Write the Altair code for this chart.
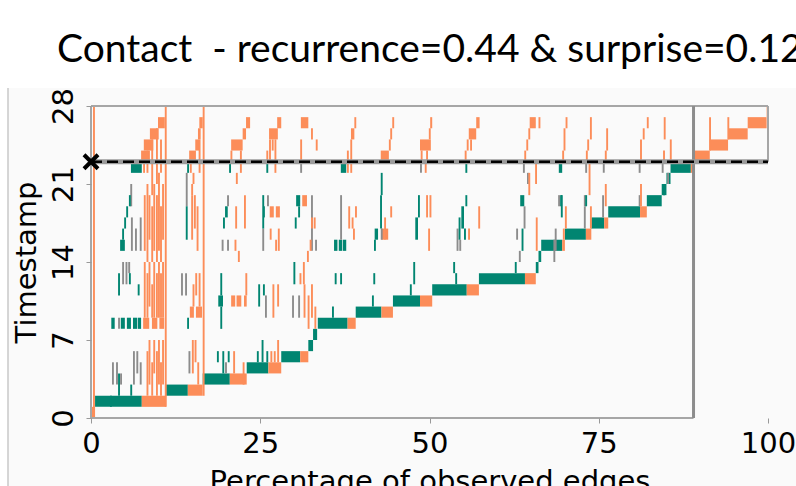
import altair as alt
import pandas as pd

# ------------------------------------------------------------------ data
x_ticks = [0, 25, 50, 75, 100]
t_ticks = [0, 7, 14, 21, 28]
split_t = 23          # train/test split timestamp
split_x = 89          # share of edges observed up to the split (%)
x_max, t_max = 100, 28

# staircase of first appearances: per timestamp, green part then orange part
stair_t =     [0, 1, 2, 3, 4, 5, 6, 7, 8, 9, 10, 11, 12, 13, 14, 15, 16, 17, 18, 19, 20, 21, 22, 23, 24, 25, 26]
stair_start = [0.0, 0.6, 11.1, 16.5, 23.0, 28.1, 32.1, 32.8, 33.5, 39.1, 44.6, 50.4, 57.3, 65.7, 66.1, 66.5,
               70.0, 73.9, 76.4, 82.1, 84.3, 85.0, 85.6, 89.0, 91.4, 94.1, 97.0]
stair_mid =   [0.0, 7.5, 14.3, 20.5, 26.2, 30.9, 32.8, 33.4, 37.9, 42.9, 48.6, 55.5, 64.1, 66.1, 66.5, 69.6,
               73.1, 75.8, 81.1, 84.3, 85.0, 85.6, 88.6, 89.0, 91.4, 94.1, 97.0]
stair_end =   [0.6, 11.1, 16.5, 23.0, 28.1, 32.1, 32.8, 33.4, 39.1, 44.6, 50.4, 57.3, 65.7, 66.1, 66.5, 70.0,
               73.9, 76.4, 82.1, 84.3, 85.0, 85.6, 88.9, 91.4, 94.1, 97.0, 99.8]

# groups of adjacent edges (x0, x1, t0, t1)
green_blocks = [
    (3.0, 3.5, 8, 8), (4.4, 5.0, 8, 8), (5.3, 5.9, 8, 8), (6.2, 6.8, 8, 8), (6.9, 7.4, 8, 8),
    (4.3, 5.0, 15, 15), (5.9, 7.5, 22, 22), (18.8, 19.5, 10, 10), (19.8, 20.2, 18, 18),
    (30.3, 30.9, 19, 19), (35.9, 36.4, 15, 15), (36.6, 37.1, 15, 15), (37.2, 37.7, 15, 15),
    (36.9, 37.7, 22, 22), (41.9, 42.4, 16, 16), (47.9, 48.3, 16, 17), (54.7, 55.1, 17, 18),
    (63.4, 64.0, 19, 19), (69.1, 69.6, 22, 22),
]
orange_blocks = [
    (7.4, 8.7, 23, 23), (7.8, 9.2, 24, 24), (8.7, 10.0, 25, 25), (9.9, 10.9, 26, 26),
    (7.7, 8.6, 8, 8), (9.0, 9.8, 8, 8), (10.1, 10.8, 8, 8),
    (14.5, 15.5, 23, 23), (15.4, 16.0, 24, 24), (15.8, 16.2, 25, 25), (16.0, 16.5, 26, 26),
    (14.6, 15.2, 9, 9), (15.5, 16.4, 9, 9),
    (20.7, 22.4, 24, 24), (22.4, 22.9, 25, 25), (22.9, 23.5, 26, 26),
    (20.7, 21.3, 10, 10), (21.5, 22.2, 10, 10), (22.6, 23.0, 10, 10),
    (26.3, 27.6, 25, 25), (27.5, 28.1, 26, 26), (26.4, 27.0, 18, 18), (27.3, 27.9, 18, 18),
    (31.0, 32.1, 26, 26), (31.2, 31.9, 19, 19), (38.4, 38.9, 25, 25),
    (42.8, 44.0, 23, 23), (42.9, 43.4, 16, 16), (43.5, 43.9, 16, 16),
    (48.6, 50.2, 24, 24), (50.1, 50.4, 26, 26), (55.8, 56.9, 25, 25), (56.9, 57.4, 26, 26),
    (64.8, 65.7, 26, 26),
]

# single edges (x, t0, t1)
orange_lines = [
    (0.3, 0, 27), (10.9, 1, 27), (16.5, 2, 27),
    (7.8, 9, 13), (7.8, 15, 19), (8.2, 2, 5), (8.2, 9, 12), (8.2, 14, 20),
    (8.5, 3, 6), (8.5, 10, 13), (8.5, 16, 19), (8.9, 2, 4), (8.9, 9, 11), (8.9, 14, 18), (8.9, 20, 24),
    (9.2, 4, 6), (9.2, 9, 13), (9.2, 15, 20), (9.6, 2, 5), (9.6, 9, 12), (9.6, 14, 19), (9.6, 21, 25),
    (9.9, 3, 6), (9.9, 9, 13), (9.9, 15, 21), (10.2, 2, 4), (10.2, 9, 12), (10.2, 14, 18), (10.2, 22, 24),
    (10.5, 3, 6), (10.5, 9, 13), (10.5, 16, 20), (7.7, 22, 22), (8.2, 22, 23),
    (14.6, 22, 22), (15.0, 21, 21), (15.9, 22, 24), (14.8, 16, 19), (15.2, 17, 19), (15.6, 15, 18),
    (15.9, 10, 12), (15.4, 11, 12), (15.0, 10, 11), (14.8, 20, 20), (14.9, 4, 6), (15.3, 5, 6), (15.7, 3, 4),
    (20.6, 23, 23), (22.0, 22, 23), (21.4, 21, 21), (21.3, 17, 18), (21.2, 15, 15), (22.6, 17, 19),
    (21.7, 14, 14), (22.8, 11, 12), (22.4, 3, 4), (21.0, 4, 5),
    (25.9, 23, 23), (26.3, 23, 24), (26.7, 24, 24), (27.1, 22, 24), (27.2, 15, 15), (27.6, 15, 16),
    (26.4, 16, 16), (26.8, 9, 11), (27.5, 10, 11), (26.5, 5, 5), (27.0, 5, 5), (27.5, 5, 6),
    (30.9, 23, 24), (32.5, 25, 25), (33.2, 24, 24), (32.5, 17, 17), (32.9, 17, 17), (31.9, 14, 14),
    (32.3, 15, 15), (31.4, 9, 11), (32.0, 8, 10), (32.5, 9, 11), (33.0, 8, 9), (31.3, 12, 13), (30.8, 12, 12),
    (37.8, 22, 23), (38.3, 22, 24), (38.9, 26, 26), (38.0, 17, 18), (38.5, 17, 17), (39.0, 18, 18), (38.7, 16, 16),
    (44.0, 24, 24), (44.2, 25, 25), (44.5, 26, 26), (44.2, 18, 18), (43.3, 16, 17),
    (48.7, 23, 23), (49.5, 23, 23), (49.9, 25, 25), (49.3, 22, 22), (49.5, 18, 19), (50.0, 18, 19), (49.8, 15, 16),
    (55.2, 23, 23), (55.5, 24, 24), (56.0, 24, 24), (55.7, 16, 16), (57.2, 17, 18),
    (64.0, 23, 23), (64.3, 24, 24), (64.6, 25, 25), (66.1, 26, 26), (65.6, 21, 22), (64.6, 20, 21), (65.7, 15, 17),
    (69.6, 23, 23), (69.8, 24, 25), (70.1, 26, 26), (70.0, 17, 18), (69.7, 16, 16),
    (73.1, 23, 23), (73.3, 24, 24), (73.7, 25, 26), (73.5, 20, 22), (73.7, 17, 18),
    (75.9, 23, 23), (76.1, 24, 25), (75.9, 19, 20),
    (81.1, 23, 24), (81.5, 25, 25), (82.1, 26, 26), (81.1, 19, 20),
    (84.5, 23, 23), (84.6, 25, 26), (85.5, 23, 24), (88.8, 23, 24),
    (91.3, 24, 26), (94.0, 25, 26), (99.8, 27, 27),
]
green_lines = [
    (2.8, 1, 1), (4.0, 2, 3), (5.8, 2, 2), (18.6, 5, 5), (19.4, 4, 5), (20.2, 5, 5),
    (24.5, 5, 5), (25.2, 5, 6), (25.9, 5, 5),
    (4.0, 11, 12), (5.6, 12, 12), (6.9, 11, 11), (14.2, 8, 8), (19.1, 8, 9), (19.1, 11, 12),
    (24.7, 10, 11), (25.4, 11, 11), (35.6, 9, 9), (41.5, 10, 10), (47.1, 11, 11), (53.8, 12, 12),
    (29.9, 12, 13), (36.0, 12, 12), (36.8, 12, 12), (41.7, 12, 12), (47.6, 12, 13), (53.5, 13, 13),
    (5.6, 19, 19), (5.2, 18, 18), (4.9, 17, 17), (4.6, 16, 16), (14.2, 22, 22), (14.0, 16, 18),
    (19.5, 17, 17), (20.4, 22, 22), (25.4, 18, 18), (25.3, 17, 19), (25.9, 22, 22),
    (30.1, 17, 17), (30.6, 18, 18), (42.7, 17, 19), (42.8, 20, 21), (41.8, 15, 15), (48.3, 18, 19),
    (55.3, 22, 22), (55.3, 19, 19), (55.1, 16, 16), (54.3, 16, 17), (63.6, 15, 16), (62.6, 13, 13),
    (69.3, 19, 19), (69.4, 18, 19), (73.0, 19, 19), (84.5, 20, 20),
]
gray_lines = [
    (3.1, 3, 4), (3.7, 3, 4), (4.3, 3, 3), (6.2, 3, 5), (6.7, 4, 5), (7.2, 3, 4),
    (4.0, 8, 8), (4.6, 12, 13), (5.1, 12, 13), (5.5, 13, 13), (5.9, 15, 17), (6.5, 15, 16),
    (7.2, 15, 17), (5.8, 19, 20), (13.3, 11, 12), (13.9, 11, 12), (14.0, 19, 21), (14.4, 4, 5),
    (19.3, 15, 15), (20.1, 15, 15), (20.1, 19, 19), (19.8, 4, 4), (25.3, 15, 16), (26.0, 19, 19),
    (25.7, 9, 10), (30.9, 22, 22), (29.7, 9, 10), (30.6, 9, 10), (32.5, 15, 19), (33.1, 15, 15),
    (36.8, 16, 19), (42.8, 16, 16), (48.6, 22, 22), (54.0, 15, 16), (54.4, 15, 15),
    (63.8, 22, 22), (64.4, 21, 21), (63.9, 17, 18), (62.8, 16, 16), (63.2, 14, 14),
    (69.0, 19, 19), (68.5, 15, 16), (68.3, 14, 15), (73.0, 22, 22), (72.8, 19, 19), (72.8, 17, 18),
    (75.6, 22, 22), (75.5, 18, 19), (80.9, 22, 22), (80.9, 19, 19), (84.3, 22, 22), (85.1, 21, 21),
]

# frame of the plot (x0, x1, t0, t1)
frame_segments = [
    (0, 0, 0, t_max), (0, split_x, 0, 0), (0, x_max, t_max, t_max), (x_max, x_max, split_t, t_max),
]

# ------------------------------------------------------------------ tables
EDGE_W = 0.28
rows = []
for t, a, m, b in zip(stair_t, stair_start, stair_mid, stair_end):
    if m > a:
        rows.append(dict(x0=a, x1=m, t0=t, t1=t + 1, kind="green"))
    if b > m:
        rows.append(dict(x0=m, x1=b, t0=t, t1=t + 1, kind="orange"))
for kind, blocks in (("green", green_blocks), ("orange", orange_blocks)):
    for a, b, t0, t1 in blocks:
        rows.append(dict(x0=a, x1=b, t0=t0, t1=t1 + 1, kind=kind))
for kind, lines in (("gray", gray_lines), ("green", green_lines), ("orange", orange_lines)):
    for x, t0, t1 in lines:
        rows.append(dict(x0=x, x1=x + EDGE_W, t0=t0, t1=t1 + 1, kind=kind))
edges = pd.DataFrame(rows)
edges["order"] = range(len(edges))

frame = pd.DataFrame(frame_segments, columns=["x0", "x1", "t0", "t1"])
split_df = pd.DataFrame({"x0": [0], "x1": [x_max], "t": [split_t]})
main_right = pd.DataFrame({"x": [split_x], "t0": [0], "t1": [t_max]})
marker = pd.DataFrame({"x": [0], "t": [split_t]})

# ------------------------------------------------------------------ chart
W, H = 677, 312
FONT = "DejaVu Sans"
xs = alt.Scale(domain=[0, x_max], nice=False, zero=False)
ys = alt.Scale(domain=[0, t_max], nice=False, zero=False)

panel = alt.Chart(pd.DataFrame({"a": [0]})).mark_rect(fill="#fafafa").encode(
    x=alt.value(-83), x2=alt.value(W + 40), y=alt.value(-18), y2=alt.value(H + 80)
)
panel_edge = alt.Chart(pd.DataFrame({"a": [0]})).mark_rule(color="#c8c8c8", strokeWidth=1.5).encode(
    x=alt.value(-83), y=alt.value(-18), y2=alt.value(H + 80)
)

rects = alt.Chart(edges).mark_rect(strokeWidth=0).encode(
    x=alt.X("x0:Q", scale=xs,
            axis=alt.Axis(values=x_ticks, title="Percentage of observed edges", grid=False, domain=False,
                          labelFont=FONT, labelFontSize=29, labelColor="#000", labelPadding=6,
                          tickSize=5, tickColor="#999", tickWidth=1, zindex=2,
                          titleFont=FONT, titleFontSize=29, titleFontWeight="normal", titleColor="#000",
                          titlePadding=9, labelFlush=False)),
    x2="x1:Q",
    y=alt.Y("t0:Q", scale=ys,
            axis=alt.Axis(values=t_ticks, title="Timestamp", grid=False, domain=False,
                          labelFont=FONT, labelFontSize=29, labelColor="#000", labelAngle=-90,
                          labelAlign="center", labelBaseline="alphabetic", labelPadding=14,
                          tickSize=5, tickColor="#999", tickWidth=1, zindex=2,
                          titleFont=FONT, titleFontSize=29, titleFontWeight="normal", titleColor="#000",
                          titlePadding=8)),
    y2="t1:Q",
    color=alt.Color("kind:N", scale=alt.Scale(domain=["green", "orange", "gray"],
                                              range=["#018571", "#fc8d59", "#8c8c8c"]), legend=None),
    order=alt.Order("order:Q"),
)

frame_lines = alt.Chart(frame).mark_rule(color="#a6a6a6", strokeWidth=2).encode(
    x=alt.X("x0:Q", scale=xs), x2="x1:Q", y=alt.Y("t0:Q", scale=ys), y2="t1:Q"
)
right_line = alt.Chart(main_right).mark_rule(color="#8c8c8c", strokeWidth=3).encode(
    x=alt.X("x:Q", scale=xs), y=alt.Y("t0:Q", scale=ys), y2="t1:Q"
)
split_under = alt.Chart(split_df).mark_rule(color="#9a9a9a", strokeWidth=5).encode(
    x=alt.X("x0:Q", scale=xs), x2="x1:Q", y=alt.Y("t:Q", scale=ys)
)
split_dash = alt.Chart(split_df).mark_rule(color="#000", strokeWidth=2.5, strokeDash=[11, 5]).encode(
    x=alt.X("x0:Q", scale=xs), x2="x1:Q", y=alt.Y("t:Q", scale=ys)
)
cross = alt.Chart(marker).mark_point(shape="M-1,-1L1,1M-1,1L1,-1", size=196, strokeWidth=4,
                                     color="#000", filled=False, opacity=1).encode(
    x=alt.X("x:Q", scale=xs), y=alt.Y("t:Q", scale=ys)
)

chart = alt.layer(panel, panel_edge, rects, frame_lines, right_line, split_under, split_dash, cross).properties(
    width=W, height=H,
    title=alt.TitleParams(text="Contact\u00a0 - recurrence=0.44 & surprise=0.12", anchor="start",
                          frame="group", font="Lato", fontSize=39, fontWeight="normal", color="#000",
                          dx=-34, offset=17),
    autosize=alt.AutoSizeParams(type="none"),
    padding={"left": 91, "top": 106, "right": 28, "bottom": 68},
).configure_view(stroke=None).configure(background="white")

chart.save("out.html", embed_options={"renderer": "svg", "actions": False})
